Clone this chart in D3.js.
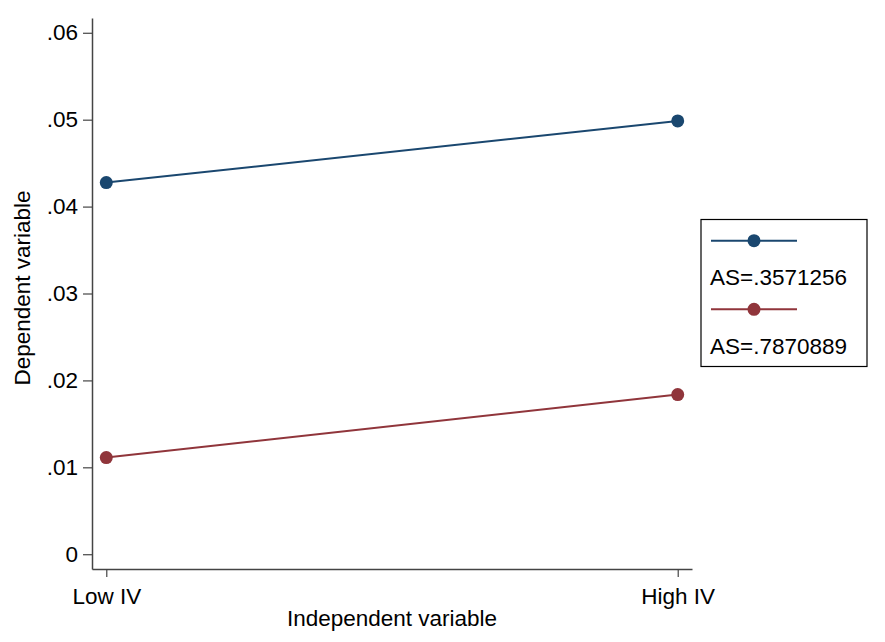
<!DOCTYPE html>
<html>
<head>
<meta charset="utf-8">
<script src="https://cdn.jsdelivr.net/npm/d3@7.9.0/dist/d3.min.js"></script>
<style>
  body { margin: 0; background: #fff; }
  text { font-family: "Liberation Sans", Arial, sans-serif; }
</style>
</head>
<body>
<div id="chart"></div>
<script>
const categories = ["Low IV", "High IV"];
const seriesNames = ["AS=.3571256", "AS=.7870889"];
const seriesColors = ["#1a476f", "#90353b"];
const blueValues = [0.04276, 0.04986];
const redValues = [0.01112, 0.01837];
const yTicks = [0, 0.01, 0.02, 0.03, 0.04, 0.05, 0.06];

const width = 885;
const height = 642;
const fontSize = "22.5px";
const plot = { left: 92, right: 692, top: 18, bottom: 569 };

const svg = d3.select('#chart')
    .append('svg')
    .attr('width', width)
    .attr('height', height);

const xScale = d3.scaleLinear()
    .domain([-0.025, 1.025])
    .range([plot.left, plot.right]);
const yScale = d3.scaleLinear()
    .domain([-0.0017, 0.0617])
    .range([plot.bottom, plot.top]);

const fmt = d => d === 0 ? "0" : d3.format(".2f")(d).replace(/^0/, "");

// axes
const yAxis = svg.append("g")
    .attr("transform", `translate(${plot.left},0)`)
    .call(d3.axisLeft(yScale).tickValues(yTicks).tickFormat(fmt).tickSize(9).tickSizeOuter(0).tickPadding(5));
const xAxis = svg.append("g")
    .attr("transform", `translate(0,${plot.bottom})`)
    .call(d3.axisBottom(xScale).tickValues([0, 1]).tickFormat(i => categories[i]).tickSize(8).tickSizeOuter(0).tickPadding(11));

[yAxis, xAxis].forEach(ax => {
    ax.select(".domain").attr("stroke", "#444").attr("stroke-width", 1.5);
    ax.selectAll(".tick line").attr("stroke", "#444").attr("stroke-width", 1.2);
    ax.selectAll(".tick text")
        .attr("fill", "#000")
        .style("font-size", fontSize)
        .style("font-family", "'Liberation Sans', Arial, sans-serif");
});

svg.append("text")
    .attr("text-anchor", "middle")
    .attr("x", (plot.left + plot.right) / 2)
    .attr("y", 626)
    .style("font-size", fontSize)
    .text("Independent variable");
svg.append("text")
    .attr("text-anchor", "middle")
    .attr("transform", "rotate(-90)")
    .attr("x", -288)
    .attr("y", 30)
    .style("font-size", fontSize)
    .text("Dependent variable");

// lines and markers
const series = [blueValues, redValues];
const line = d3.line()
    .x((d, i) => xScale(i))
    .y(d => yScale(d));

series.forEach((vals, s) => {
    svg.append("path")
        .datum(vals)
        .attr("fill", "none")
        .attr("stroke", seriesColors[s])
        .attr("stroke-width", 2)
        .attr("d", line);
    svg.selectAll(null)
        .data(vals)
        .enter()
        .append("circle")
        .attr("cx", (d, i) => xScale(i))
        .attr("cy", d => yScale(d))
        .attr("r", 6.5)
        .attr("fill", seriesColors[s]);
});

// legend
const legend = svg.append("g");
legend.append("rect")
    .attr("x", 701)
    .attr("y", 219.5)
    .attr("width", 166)
    .attr("height", 147)
    .attr("fill", "#fff")
    .attr("stroke", "#000")
    .attr("stroke-width", 1.2);

seriesNames.forEach((name, s) => {
    const y0 = 240.7 + s * 68.6;
    legend.append("line")
        .attr("x1", 711)
        .attr("x2", 797)
        .attr("y1", y0)
        .attr("y2", y0)
        .attr("stroke", seriesColors[s])
        .attr("stroke-width", 2);
    legend.append("circle")
        .attr("cx", 754)
        .attr("cy", y0)
        .attr("r", 6.5)
        .attr("fill", seriesColors[s]);
    legend.append("text")
        .attr("x", 710)
        .attr("y", y0 + 44.5)
        .style("font-size", fontSize)
        .text(name);
});
</script>
</body>
</html>
